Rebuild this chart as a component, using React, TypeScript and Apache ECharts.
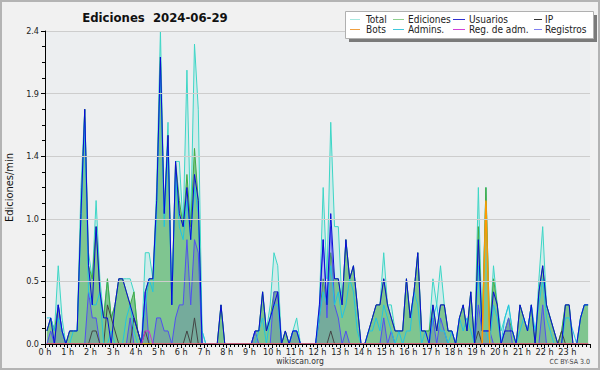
import React, { useEffect, useRef } from "react";
import * as echarts from "echarts";

// 10-minute bins (144 per day), values in edits per minute
const TOTAL = [
  0.1, 0.2, 0.1, 0.6, 0.2, 0, 0.1, 0.1, 0.1, 1.2, 1.8, 0.7,
  0.5, 1.1, 0.5, 0.2, 0.5, 0.2, 0.3, 0.5, 0.5, 0.5, 0.5, 0.4,
  0.1, 0, 0.7, 0.7, 0.5, 1.2, 2.4, 1.0, 1.7, 0.3, 1.4, 1.4,
  0.9, 2.1, 0.9, 2.3, 1.8, 0.1, 0, 0, 0, 0, 0.3, 0,
  0, 0, 0, 0, 0, 0, 0, 0.1, 0.1, 0.4, 0.1, 0.3,
  0.7, 0.6, 0, 0.1, 0, 0.1, 0.2, 0, 0, 0, 0, 0,
  0.3, 1.2, 0.5, 1.7, 0.9, 0.9, 0.3, 0.8, 0.5, 0.6, 0.3, 0,
  0, 0.1, 0.2, 0.3, 0.3, 0.7, 0.3, 0.3, 0.1, 0.1, 0.1, 0.5,
  0.2, 0.4, 0.7, 0.1, 0.1, 0.1, 0.5, 0.3, 0.6, 0.3, 0.1, 0.1,
  0, 0.2, 0.3, 0.1, 0.4, 0, 1.2, 0.1, 1.2, 0.1, 0.6, 0.3,
  0.1, 0.2, 0.3, 0.1, 0, 0.3, 0.2, 0.1, 0.3, 0, 0.5, 0.9,
  0.3, 0.2, 0.1, 0, 0.1, 0.3, 0.3, 0, 0, 0.2, 0.3, 0.3,
];
const EDICIONES = [
  0.1, 0.2, 0.1, 0.3, 0.1, 0, 0.1, 0.1, 0.1, 1.0, 1.8, 0.6,
  0.5, 0.9, 0.4, 0.2, 0.5, 0.2, 0.3, 0.5, 0.5, 0.4, 0.3, 0.4,
  0.1, 0, 0.4, 0.5, 0.5, 1.1, 2.2, 1.0, 1.6, 0.3, 1.4, 1.1,
  0.9, 1.3, 0.9, 1.5, 1.1, 0, 0, 0, 0, 0, 0.3, 0,
  0, 0, 0, 0, 0, 0, 0, 0.1, 0.1, 0.4, 0.1, 0.2,
  0.4, 0.4, 0, 0.1, 0, 0.1, 0.1, 0, 0, 0, 0, 0,
  0.2, 0.5, 0.3, 0.7, 0.5, 0.5, 0.3, 0.8, 0.5, 0.6, 0.3, 0,
  0, 0.1, 0.2, 0.3, 0.3, 0.5, 0.3, 0.2, 0.1, 0.1, 0.1, 0.5,
  0.2, 0.4, 0.7, 0.1, 0.1, 0.1, 0.3, 0.1, 0.3, 0.3, 0.1, 0.1,
  0, 0.2, 0.3, 0.1, 0.4, 0, 0.9, 0.1, 1.2, 0.1, 0.5, 0.3,
  0, 0.1, 0.2, 0.1, 0, 0.3, 0.2, 0.1, 0.3, 0, 0.4, 0.6,
  0.3, 0.2, 0.1, 0, 0.1, 0.3, 0.3, 0, 0, 0.2, 0.3, 0.3,
];
const USUARIOS = [
  0.1, 0.2, 0, 0.3, 0.1, 0, 0.1, 0.1, 0.1, 1.0, 1.8, 0.6,
  0.3, 0.9, 0.4, 0.2, 0.2, 0, 0.3, 0.5, 0.5, 0.4, 0.3, 0.2,
  0.1, 0, 0.4, 0.5, 0.5, 1.1, 2.2, 1.0, 1.6, 0.3, 1.4, 1.0,
  0.9, 1.2, 0.8, 1.3, 1.1, 0, 0, 0, 0, 0, 0.3, 0,
  0, 0, 0, 0, 0, 0, 0, 0.1, 0.1, 0.4, 0.1, 0.2,
  0.3, 0.4, 0, 0.1, 0, 0.1, 0.1, 0, 0, 0, 0, 0,
  0.3, 0.8, 0.3, 1.0, 0.5, 0.5, 0.3, 0.8, 0.5, 0.6, 0.3, 0,
  0, 0.1, 0.2, 0.3, 0.3, 0.5, 0.3, 0.2, 0.1, 0.1, 0.1, 0.5,
  0.2, 0.4, 0.7, 0.1, 0.1, 0, 0.3, 0.1, 0.3, 0.3, 0.1, 0.1,
  0, 0.2, 0.3, 0.1, 0.4, 0, 0.8, 0.1, 0.1, 0.1, 0.4, 0.3,
  0, 0.1, 0.1, 0.1, 0, 0.3, 0.2, 0.1, 0.3, 0, 0.4, 0.6,
  0.3, 0.2, 0.1, 0, 0, 0.3, 0.3, 0, 0, 0.2, 0.3, 0.3,
];
const IP = [
  0, 0, 0, 0, 0, 0, 0, 0, 0, 0, 0, 0,
  0.1, 0.1, 0, 0, 0.3, 0.2, 0.1, 0, 0, 0, 0, 0.2,
  0.1, 0, 0.1, 0, 0, 0, 0, 0, 0, 0, 0, 0,
  0, 0.1, 0, 0.2, 0, 0, 0, 0, 0, 0, 0, 0,
  0, 0, 0, 0, 0, 0, 0, 0, 0, 0, 0, 0,
  0, 0, 0, 0, 0, 0, 0, 0, 0, 0, 0, 0,
  0, 0, 0, 0.1, 0, 0, 0, 0, 0, 0, 0, 0,
  0, 0, 0, 0, 0, 0, 0, 0, 0, 0, 0, 0,
  0, 0, 0, 0, 0, 0, 0, 0, 0, 0, 0, 0,
  0, 0, 0, 0, 0, 0, 0.1, 0, 0, 0, 0, 0,
  0, 0, 0, 0, 0, 0, 0, 0, 0, 0, 0, 0,
  0, 0, 0, 0, 0.1, 0, 0, 0, 0, 0, 0, 0,
];
const BOTS = [
  0, 0, 0, 0, 0, 0, 0, 0, 0, 0, 0, 0,
  0, 0, 0, 0, 0, 0, 0, 0, 0, 0, 0, 0,
  0, 0, 0, 0, 0, 0, 0, 0, 0, 0, 0, 0,
  0, 0, 0, 0, 0, 0, 0, 0, 0, 0, 0, 0,
  0, 0, 0, 0, 0, 0, 0, 0, 0, 0, 0, 0,
  0, 0, 0, 0, 0, 0, 0, 0, 0, 0, 0, 0,
  0, 0, 0, 0, 0, 0, 0, 0, 0, 0, 0, 0,
  0, 0, 0, 0, 0, 0, 0, 0, 0, 0, 0, 0,
  0, 0, 0, 0, 0, 0, 0, 0, 0, 0, 0, 0,
  0, 0, 0, 0, 0, 0, 0, 0, 1.1, 0, 0, 0,
  0, 0, 0, 0, 0, 0, 0, 0, 0, 0, 0, 0,
  0, 0, 0, 0, 0, 0, 0, 0, 0, 0, 0, 0,
];
const ADMINS = [
  0.2, 0.2, 0.1, 0.2, 0.1, 0, 0, 0.1, 0.1, 0.9, 1.7, 0.4,
  0.3, 0.3, 0.4, 0, 0, 0.1, 0, 0, 0, 0.2, 0.3, 0.1,
  0, 0, 0.3, 0.5, 0.4, 1.0, 2.1, 0.9, 1.5, 0.3, 1.3, 0.9,
  0.8, 1.1, 0.8, 1.2, 1.0, 0.1, 0, 0, 0, 0, 0, 0,
  0, 0, 0, 0, 0, 0, 0, 0, 0.1, 0.2, 0, 0.2,
  0.3, 0.3, 0, 0, 0, 0.1, 0.1, 0, 0, 0, 0, 0,
  0.2, 0.4, 0.3, 0.6, 0.3, 0.4, 0.2, 0.3, 0.5, 0.4, 0.1, 0,
  0, 0.1, 0.1, 0.2, 0.1, 0.3, 0.2, 0.1, 0, 0.1, 0, 0.1,
  0.1, 0.4, 0.3, 0, 0.1, 0, 0.2, 0.3, 0.1, 0.1, 0, 0.1,
  0, 0.2, 0.1, 0.2, 0.1, 0, 0.6, 0.1, 0.1, 0, 0.3, 0.2,
  0, 0.2, 0.3, 0.1, 0, 0.1, 0.2, 0.1, 0.3, 0.1, 0.3, 0.5,
  0.2, 0.1, 0, 0, 0, 0.2, 0.2, 0.1, 0, 0.2, 0.3, 0.3,
];
const REG_ADM = [
  0, 0, 0, 0, 0, 0, 0, 0, 0, 0, 0, 0,
  0, 0, 0, 0, 0, 0, 0, 0, 0, 0, 0, 0,
  0, 0, 0.1, 0.1, 0, 0, 0, 0, 0, 0, 0, 0,
  0, 0, 0, 0, 0, 0, 0, 0, 0, 0, 0, 0,
  0, 0, 0, 0, 0, 0, 0, 0, 0, 0, 0, 0,
  0, 0, 0, 0, 0, 0, 0, 0, 0, 0, 0, 0,
  0, 0, 0, 0, 0, 0, 0, 0, 0, 0, 0, 0,
  0, 0, 0, 0, 0, 0, 0, 0, 0, 0, 0, 0,
  0, 0, 0, 0, 0, 0, 0, 0, 0, 0, 0, 0,
  0, 0, 0, 0, 0, 0, 0, 0, 0, 0, 0, 0,
  0, 0, 0, 0, 0, 0, 0, 0, 0, 0, 0, 0,
  0, 0, 0, 0, 0, 0, 0, 0, 0, 0, 0, 0,
];
const REGISTROS = [
  0, 0.1, 0, 0.3, 0.1, 0, 0, 0, 0, 0, 0, 0.4,
  0.2, 0.2, 0, 0, 0, 0, 0, 0, 0, 0, 0.2, 0,
  0, 0, 0.4, 0, 0, 0.2, 0.2, 0.1, 0.1, 0, 0.2, 0.3,
  0.3, 0.8, 0.3, 0.8, 0.7, 0, 0, 0, 0, 0, 0, 0,
  0, 0, 0, 0, 0, 0, 0, 0.1, 0, 0, 0, 0,
  0.4, 0.4, 0, 0, 0, 0.1, 0.1, 0, 0, 0, 0, 0,
  0.2, 0.8, 0.2, 0.9, 0.3, 0.2, 0, 0.1, 0, 0, 0, 0,
  0, 0, 0, 0, 0, 0.2, 0, 0.1, 0, 0, 0, 0,
  0, 0, 0, 0, 0, 0, 0.2, 0, 0.2, 0.1, 0, 0,
  0, 0, 0, 0, 0, 0, 0.3, 0.1, 0.1, 0.1, 0, 0,
  0, 0.1, 0.2, 0, 0, 0, 0, 0, 0, 0, 0, 0.3,
  0, 0, 0, 0, 0, 0, 0, 0, 0, 0, 0, 0,
];

const TITLE = "Ediciones  2024-06-29";
const Y_NAME = "Ediciones/min";
const LEGEND_ITEMS = [
  { name: "Total", color: "#a6e8e0" },
  { name: "Ediciones", color: "#8fd08f" },
  { name: "Usuarios", color: "#3030d0" },
  { name: "IP", color: "#333333" },
  { name: "Bots", color: "#f0a040" },
  { name: "Admins.", color: "#40c8dc" },
  { name: "Reg. de adm.", color: "#d040d8" },
  { name: "Registros", color: "#8080f0" },
];

const FONT = "'DejaVu Sans Condensed', 'DejaVu Sans', sans-serif";

const pts = (arr: number[]) => arr.map((v, k) => [k + 0.5, v]);

function lineSeries(name: string, data: number[], color: string, width: number, area?: string, z = 2) {
  const s: any = {
    name,
    type: "line",
    data: pts(data),
    showSymbol: false,
    symbol: "none",
    z,
    lineStyle: { color, width },
    itemStyle: { color },
  };
  if (area) s.areaStyle = { color: area, opacity: 1 };
  return s;
}

export default function App() {
  const ref = useRef<HTMLDivElement>(null);
  useEffect(() => {
    if (!ref.current) return;
    const chart = echarts.init(ref.current, null, { renderer: "svg" });

    const colX = [350, 393, 453, 534];
    const colW = [10, 11, 12, 8];
    const colT = [366, 408, 469, 545];
    const legendEls: any[] = [
      { type: "rect", z: 100, shape: { x: 349, y: 15, width: 248, height: 27 }, style: { fill: "#7a7a7a" } },
      { type: "rect", z: 101, shape: { x: 345.5, y: 11.5, width: 248, height: 27 }, style: { fill: "#ffffff", stroke: "#b0b0b0", lineWidth: 1 } },
    ];
    LEGEND_ITEMS.forEach((it, i) => {
      const col = i % 4;
      const row = Math.floor(i / 4);
      const cy = 19.5 + row * 10;
      legendEls.push({
        type: "line",
        z: 102,
        shape: { x1: colX[col], y1: cy, x2: colX[col] + colW[col], y2: cy },
        style: { stroke: it.color, lineWidth: 1 },
      });
      legendEls.push({
        type: "text",
        z: 102,
        x: colT[col],
        y: cy,
        style: { text: it.name, fill: "#222", font: `10px ${FONT}`, verticalAlign: "middle" },
      });
    });

    chart.setOption({
      animation: false,
      backgroundColor: "#f1f1f1",
      grid: {
        left: 45,
        top: 31,
        right: 10,
        bottom: 26,
        show: true,
        backgroundColor: "#eceef0",
        borderWidth: 0,
        containLabel: false,
        outerBoundsMode: "none",
      },
      xAxis: {
        type: "value",
        z: 10,
        min: 0,
        max: 144,
        interval: 6,
        axisLine: { show: true, lineStyle: { color: "#000", width: 1 } },
        axisTick: { show: true, length: 4, lineStyle: { color: "#000" } },
        minorTick: { show: true, splitNumber: 6, length: 3, lineStyle: { color: "#000" } },
        splitLine: { show: false },
        axisLabel: {
          formatter: (v: number) => (v >= 144 ? "" : `${v / 6} h`),
          fontSize: 9,
          fontFamily: FONT,
          color: "#222",
          margin: 3,
        },
      },
      yAxis: {
        type: "value",
        z: 10,
        min: 0,
        max: 2.4,
        interval: 0.48,
        name: Y_NAME,
        nameLocation: "middle",
        nameGap: 29,
        nameTextStyle: { fontSize: 11, fontFamily: FONT, color: "#111" },
        axisLine: { show: true, lineStyle: { color: "#000", width: 1 } },
        axisTick: { show: true, length: 4, lineStyle: { color: "#000" } },
        minorTick: { show: true, splitNumber: 4, length: 3, lineStyle: { color: "#000" } },
        splitLine: { show: true, lineStyle: { color: "#cdcdcd", width: 1 } },
        axisLabel: {
          formatter: (v: number) => v.toFixed(1),
          fontSize: 9,
          fontFamily: FONT,
          color: "#222",
          margin: 6,
        },
      },
      series: [
        lineSeries("Total", TOTAL, "#3dd6c6", 1, "rgba(64,224,208,0.16)", 1),
        lineSeries("Ediciones", EDICIONES, "#44aa44", 1, "rgba(60,165,70,0.55)", 2),
        lineSeries("Registros", REGISTROS, "#5050f0", 1, "rgba(80,80,200,0.22)", 3),
        lineSeries("IP", IP, "#444444", 1, undefined, 4),
        lineSeries("Admins.", ADMINS, "#22c4e0", 1, undefined, 5),
        lineSeries("Usuarios", USUARIOS, "#0a0ad8", 1, undefined, 6),
        lineSeries("Bots", BOTS, "#ff9900", 1.5, undefined, 7),
        lineSeries("Reg. de adm.", REG_ADM, "#cc33cc", 1, undefined, 8),
      ],
      graphic: [
        {
          type: "rect",
          z: 100,
          shape: { x: 1, y: 1, width: 598, height: 368 },
          style: { fill: "none", stroke: "#b4b4b4", lineWidth: 2 },
        },
        {
          type: "text",
          z: 100,
          x: 155,
          y: 17,
          style: { text: TITLE, fill: "#111", font: `bold 13px ${FONT}`, align: "center", verticalAlign: "middle" },
        },
        {
          type: "text",
          z: 100,
          x: 300,
          y: 361,
          style: { text: "wikiscan.org", fill: "#333", font: `8.5px ${FONT}`, align: "center", verticalAlign: "middle" },
        },
        {
          type: "text",
          z: 100,
          x: 590,
          y: 362,
          style: { text: "CC BY-SA 3.0", fill: "#444", font: `7px ${FONT}`, align: "right", verticalAlign: "middle" },
        },
        ...legendEls,
      ],
    });
    return () => chart.dispose();
  }, []);
  return <div ref={ref} style={{ position: "fixed", left: 0, top: 0, width: 600, height: 370 }} />;
}
